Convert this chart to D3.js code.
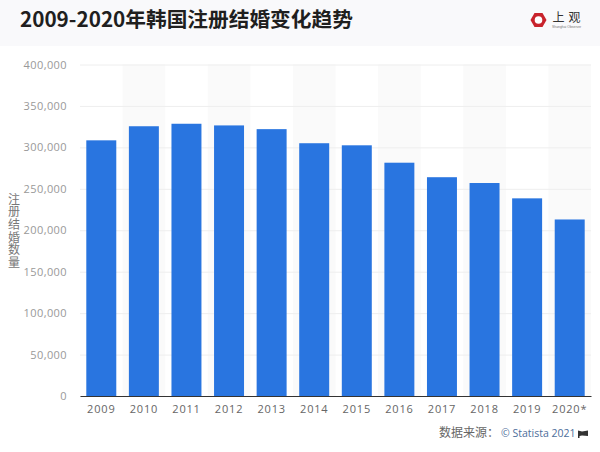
<!DOCTYPE html>
<html>
<head>
<meta charset="utf-8">
<script src="https://cdnjs.cloudflare.com/ajax/libs/d3/7.8.5/d3.min.js"></script>
<style>
body { margin: 0; background: #fff; }
text { font-family: "Noto Sans CJK SC", "Noto Sans", sans-serif; }
.y.axis text, .x.axis text { font-family: "Open Sans", "Noto Sans", sans-serif; letter-spacing: .4px; }
.x.axis text { letter-spacing: .8px; }
</style>
</head>
<body>
<div id="chart"></div>
<script>
var years = ["2009","2010","2011","2012","2013","2014","2015","2016","2017","2018","2019","2020*"];
var marriages = [308500,325500,328500,326500,322000,305000,302500,281500,264000,257000,238500,213000];
var yTicks = [0,50000,100000,150000,200000,250000,300000,350000,400000];

var margin = {top: 64.5, right: 9, bottom: 56, left: 80},
    width = 600 - margin.left - margin.right,
    height = 452 - margin.top - margin.bottom;

var svg = d3.select("#chart").append("svg")
    .attr("width", 600)
    .attr("height", 452)
    .style("display", "block");

// header strip
svg.append("rect").attr("width", 600).attr("height", 46).attr("fill", "#f9f9fb");

svg.append("text")
    .attr("x", 20).attr("y", 26.5)
    .attr("font-size", 20.7).attr("font-weight", 700).attr("fill", "#1f1f1f")
    .text("2009-2020年韩国注册结婚变化趋势");

// logo
var logo = svg.append("g").attr("transform", "translate(538.5,20)");
var hex = d3.range(6).map(function(i) {
  var a = Math.PI / 3 * i;
  return [8 * Math.cos(a), 8 * Math.sin(a)];
});
logo.append("polygon").attr("points", hex.join(" ")).attr("fill", "#c8232c");
logo.append("circle").attr("r", 3.8).attr("fill", "#fff");
logo.append("text").attr("x", 14).attr("y", 2)
    .attr("font-size", 12).attr("fill", "#333").style("letter-spacing", "4px").text("上观");
logo.append("text").attr("x", 13.5).attr("y", 7.5)
    .attr("font-size", 3.4).attr("fill", "#777")
    .style("font-family", "'Liberation Sans', sans-serif")
    .text("Shanghai Observer");

var x = d3.scaleBand().domain(years).range([0, width]).paddingInner(0.296).paddingOuter(0.148);
var band = d3.scaleBand().domain(years).range([0, width]);
var y = d3.scaleLinear().domain([0, 400000]).range([height, 0]);

var g = svg.append("g")
    .attr("transform", "translate(" + margin.left + "," + margin.top + ")");

// alternating column shading
g.selectAll(".stripe")
    .data(years.filter(function(d, i) { return i % 2 == 1; }))
  .enter().append("rect")
    .attr("class", "stripe")
    .attr("x", function(d) { return band(d); })
    .attr("y", 0)
    .attr("width", band.bandwidth())
    .attr("height", height)
    .attr("fill", "#fafafa");

var yAxis = g.append("g")
    .attr("class", "y axis")
    .call(d3.axisLeft(y).tickValues(yTicks).tickSize(-width).tickPadding(13)
      .tickFormat(d3.format(",")));
yAxis.select(".domain").remove();
yAxis.selectAll("line").attr("stroke", "#eeeeee");
yAxis.selectAll("text").attr("font-size", 11).attr("fill", "#999");

g.selectAll(".bar")
    .data(marriages)
  .enter().append("rect")
    .attr("class", "bar")
    .attr("x", function(d, i) { return x(years[i]); })
    .attr("y", function(d) { return y(d); })
    .attr("width", x.bandwidth())
    .attr("height", function(d) { return height - y(d); })
    .attr("fill", "#2975e0");

var xAxis = g.append("g")
    .attr("class", "x axis")
    .attr("transform", "translate(0," + height + ")")
    .call(d3.axisBottom(x).tickSize(0).tickPadding(9));
xAxis.select(".domain").attr("stroke", "#333").attr("stroke-width", 1);
xAxis.selectAll("text").attr("font-size", 11).attr("fill", "#666");

// vertical axis title
svg.append("text")
    .attr("x", 14).attr("y", 193)
    .attr("font-size", 12).attr("fill", "#777")
    .style("writing-mode", "vertical-rl")
    .style("letter-spacing", "0.7px")
    .text("注册结婚数量");

// source
svg.append("text")
    .attr("x", 439).attr("y", 437)
    .attr("font-size", 12).attr("fill", "#666")
    .text("数据来源：");
svg.append("text")
    .attr("x", 501).attr("y", 437)
    .attr("font-size", 10.5).attr("fill", "#4d6d9a")
    .style("font-family", "'Open Sans', sans-serif")
    .text("© Statista 2021");
svg.append("path")
    .attr("d", d3.line()([[578,430.5],[582,431.5],[588,430.5],[588,436],[582,435.5],[579.5,436],[579.5,438],[578,438]]))
    .attr("fill", "#333");
</script>
</body>
</html>
